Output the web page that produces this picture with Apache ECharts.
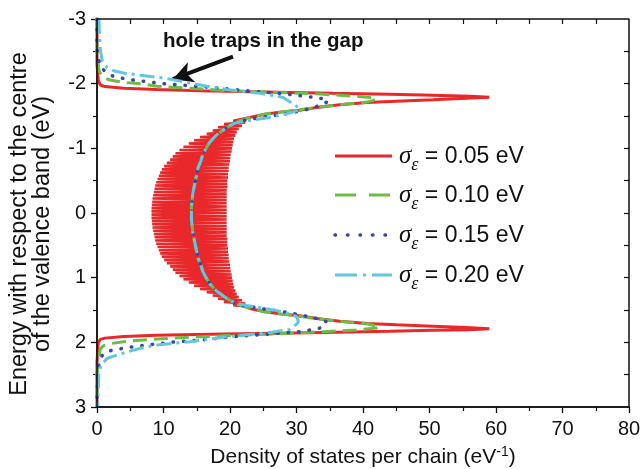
<!DOCTYPE html>
<html><head><meta charset="utf-8">
<script src="https://cdn.jsdelivr.net/npm/echarts@6/dist/echarts.min.js"></script>
<style>html,body{margin:0;padding:0;background:#fff}#c{width:640px;height:469px}</style>
</head><body><div id="c"></div>
<script>
// x = density of states per chain (eV^-1), y = energy (eV)
const xTicks = [0, 80, 10];
const yTicks = [-3, 3, 1];
const topTickStep = 5;
const rightTickStep = 0.5;

const red005Top = [[0,-3],[0,-2.3],[0.2,-2.05],[0.5,-1.98],[1.2,-1.955],[4,-1.93],[9,-1.91],[15.5,-1.89],[25,-1.87],[35.5,-1.85],[44,-1.835],[50.5,-1.82],[56,-1.805],[59,-1.79],[55.5,-1.775],[50.5,-1.75],[45,-1.73],[40.6,-1.71],[36.5,-1.675],[33,-1.63],[30.5,-1.59],[27.5,-1.56],[25.5,-1.53],[24,-1.5],[22.8,-1.475]];

const red005Zig = [[22.8,-1.475],[23.0,-1.45],[20.5,-1.425],[22.3,-1.4],[19.1,-1.375],[21.8,-1.35],[18.2,-1.325],[21.3,-1.3],[17.4,-1.275],[21.0,-1.25],
[16.5,-1.225],[20.8,-1.2],[15.5,-1.175],[20.6,-1.15],[14.6,-1.125],[20.5,-1.1],[13.8,-1.075],[20.4,-1.05],[13.0,-1.025],[20.3,-1.0],
[12.4,-0.975],[20.25,-0.95],[11.8,-0.925],[20.1,-0.9],[11.4,-0.875],[20.05,-0.85],[11.0,-0.825],[20.0,-0.8],[10.5,-0.775],[19.9,-0.75],
[10.1,-0.725],[19.8,-0.7],[9.75,-0.675],[19.8,-0.65],[9.5,-0.625],[19.7,-0.6],[9.3,-0.575],[19.7,-0.55],[9.1,-0.525],[19.6,-0.5],
[8.9,-0.475],[19.6,-0.45],[8.75,-0.425],[19.6,-0.4],[8.65,-0.375],[19.5,-0.35],[8.55,-0.325],[19.5,-0.3],[8.45,-0.275],[19.5,-0.25],
[8.35,-0.225],[19.5,-0.2],[8.3,-0.175],[19.5,-0.15],[8.25,-0.125],[19.5,-0.1],[8.2,-0.075],[19.5,-0.05],[8.2,-0.025],[19.5,0],
[8.2,0.025],[19.5,0.05],[8.2,0.075],[19.5,0.1],[8.25,0.125],[19.5,0.15],[8.3,0.175],[19.5,0.2],[8.35,0.225],[19.5,0.25],
[8.45,0.275],[19.5,0.3],[8.55,0.325],[19.5,0.35],[8.65,0.375],[19.6,0.4],[8.75,0.425],[19.6,0.45],[8.9,0.475],[19.6,0.5],
[9.1,0.525],[19.7,0.55],[9.3,0.575],[19.7,0.6],[9.5,0.625],[19.8,0.65],[9.75,0.675],[19.8,0.7],[10.1,0.725],[19.9,0.75],
[10.5,0.775],[20.0,0.8],[11.0,0.825],[20.05,0.85],[11.4,0.875],[20.1,0.9],[11.8,0.925],[20.25,0.95],[12.4,0.975],[20.3,1.0],
[13.0,1.025],[20.4,1.05],[13.8,1.075],[20.5,1.1],[14.6,1.125],[20.6,1.15],[15.5,1.175],[20.8,1.2],[16.5,1.225],[21.0,1.25],
[17.4,1.275],[21.3,1.3],[18.2,1.325],[21.8,1.35],[19.1,1.375],[22.3,1.4],[20.5,1.425],[23.0,1.45],[22.8,1.475]];

const red005Bottom = [[22.8,1.475],[24,1.5],[25.5,1.53],[27.5,1.56],[30.5,1.59],[33,1.63],[36.5,1.675],[40.6,1.71],[45,1.73],[50.5,1.75],[55.5,1.77],[59,1.79],[56,1.805],[50.5,1.815],[44,1.83],[32,1.85],[19,1.87],[9,1.89],[4,1.91],[1.2,1.935],[0.5,1.955],[0.2,2.0],[0,2.3],[0,3]];

const green010 = [[0,-3],[0,-2.5],[0.1,-2.4],[0.3,-2.2],[0.9,-2.1],[1.8,-2.06],[4,-2.02],[6.5,-2.0],[9,-1.96],[14,-1.93],[20,-1.89],[27,-1.865],[33.5,-1.84],[38,-1.81],[41.5,-1.785],[42,-1.755],[40.6,-1.715],[36.5,-1.675],[33,-1.635],[30.5,-1.595],[27.5,-1.56],[25,-1.525],[22.8,-1.47],[20.7,-1.4],[19.2,-1.3],[17.9,-1.2],[17,-1.1],[16.4,-1.0],[15.9,-0.9],[15.6,-0.8],[15.2,-0.7],[15,-0.6],[14.8,-0.5],[14.6,-0.4],[14.4,-0.3],[14.3,-0.2],[14.2,-0.1],[14.2,0],[14.2,0.1],[14.3,0.2],[14.4,0.3],[14.6,0.4],[14.8,0.5],[15,0.6],[15.2,0.7],[15.6,0.8],[15.9,0.9],[16.4,1.0],[17,1.1],[17.9,1.2],[19.2,1.3],[20.7,1.4],[22.8,1.47],[25,1.525],[27.5,1.56],[30.5,1.595],[33,1.635],[36.5,1.675],[40.6,1.715],[42.5,1.76],[42,1.78],[39,1.81],[34,1.835],[29,1.86],[24,1.88],[19,1.9],[13,1.925],[9,1.95],[6,1.97],[4,1.99],[2,2.02],[1,2.05],[0.5,2.1],[0.2,2.3],[0,2.5],[0,3]];

const blue015 = [[0,-3],[0,-2.6],[0.1,-2.45],[0.5,-2.27],[1.2,-2.19],[2.5,-2.11],[4.5,-2.07],[7.5,-2.03],[10,-2.0],[12.5,-1.98],[17.5,-1.94],[22.5,-1.89],[27.5,-1.85],[30,-1.82],[32.5,-1.79],[34.3,-1.76],[34.8,-1.73],[34,-1.68],[32.5,-1.63],[31,-1.585],[28.5,-1.535],[25.5,-1.49],[22.5,-1.44],[20.7,-1.4],[19.2,-1.3],[17.9,-1.2],[17,-1.1],[16.4,-1.0],[15.9,-0.9],[15.6,-0.8],[15.2,-0.7],[15,-0.6],[14.8,-0.5],[14.6,-0.4],[14.4,-0.3],[14.3,-0.2],[14.2,-0.1],[14.2,0],[14.2,0.1],[14.3,0.2],[14.4,0.3],[14.6,0.4],[14.8,0.5],[15,0.6],[15.2,0.7],[15.6,0.8],[15.9,0.9],[16.4,1.0],[17,1.1],[17.9,1.2],[19.2,1.3],[20.7,1.4],[22.5,1.44],[25.5,1.49],[28.5,1.535],[31,1.585],[33,1.63],[34.5,1.68],[34.2,1.73],[33.5,1.78],[31,1.83],[26,1.87],[21,1.91],[16,1.96],[11,2.0],[8.5,2.03],[6,2.06],[3.5,2.1],[1.5,2.14],[0.8,2.2],[0.4,2.3],[0.1,2.5],[0,2.9],[0,3]];

const cyan020 = [[0.3,-3],[0.35,-2.8],[0.5,-2.52],[0.8,-2.35],[1.5,-2.25],[2.5,-2.2],[4,-2.165],[6.5,-2.13],[9,-2.1],[11,-2.07],[13.5,-2.02],[16.5,-1.96],[19.5,-1.91],[22,-1.88],[24.5,-1.85],[27,-1.81],[28,-1.785],[29,-1.72],[30,-1.65],[30.5,-1.6],[29,-1.545],[25.5,-1.47],[22.5,-1.425],[20.7,-1.39],[19.2,-1.3],[17.9,-1.2],[17,-1.1],[16.4,-1.0],[15.9,-0.9],[15.6,-0.8],[15.2,-0.7],[15,-0.6],[14.8,-0.5],[14.6,-0.4],[14.4,-0.3],[14.3,-0.2],[14.2,-0.1],[14.2,0],[14.2,0.1],[14.3,0.2],[14.4,0.3],[14.6,0.4],[14.8,0.5],[15,0.6],[15.2,0.7],[15.6,0.8],[15.9,0.9],[16.4,1.0],[17,1.1],[17.9,1.2],[19.2,1.3],[20.7,1.39],[22.5,1.43],[25,1.47],[28,1.53],[30,1.6],[30.3,1.68],[30,1.72],[29,1.8],[26.5,1.84],[24,1.87],[21.5,1.895],[19,1.92],[16.5,1.955],[14,1.99],[11.5,2.015],[9,2.04],[7,2.08],[5.5,2.12],[3.5,2.18],[1.5,2.25],[0.8,2.33],[0.3,2.43],[0.2,2.7],[0.1,3]];

const legendValues = ['0.05', '0.10', '0.15', '0.20'];
const arrowFrom = [20.45, -2.417];
const arrowTo = [11.4, -2.07];

const C_RED = '#e8282b', C_GREEN = '#6cbd45', C_BLUE = '#3447a4', C_CYAN = '#62c6dd';
const AX = '#111111';
const FONT = '"Liberation Sans", Arial, sans-serif';
const GRID = { left: 97, right: 11, top: 19, bottom: 62 };
const W = 640, H = 469;

const chart = echarts.init(document.getElementById('c'), null, { renderer: 'canvas' });

const baseX = { type: 'value', min: xTicks[0], max: xTicks[1] };
const baseY = { type: 'value', min: yTicks[0], max: yTicks[1], inverse: true };
const frameLine = () => ({ show: true, onZero: false, lineStyle: { color: AX, width: 1.5 } });

// frame of the plot area, drawn through the axes' scales as a closed line
const frameBox = [[xTicks[0], yTicks[0]], [xTicks[1], yTicks[0]], [xTicks[1], yTicks[1]], [xTicks[0], yTicks[1]], [xTicks[0], yTicks[0]]];
// inward mirror ticks (5 px) on top and right edges
const pxPerX = (W - GRID.left - GRID.right) / (xTicks[1] - xTicks[0]);
const pxPerY = (H - GRID.top - GRID.bottom) / (yTicks[1] - yTicks[0]);
const mirrorTicks = [];
for (let v = xTicks[0] + topTickStep; v < xTicks[1] - 1e-9; v += topTickStep) {
  mirrorTicks.push([{ coord: [v, yTicks[0]] }, { coord: [v, yTicks[0] + 5 / pxPerY] }]);
}
for (let e = yTicks[0] + rightTickStep; e < yTicks[1] - 1e-9; e += rightTickStep) {
  mirrorTicks.push([{ coord: [xTicks[1], e] }, { coord: [xTicks[1] - 5 / pxPerX, e] }]);
}

// manual legend (line sample + rich text)
const legendStyles = [
  { color: C_RED, dash: null, width: 3, cap: 'butt' },
  { color: C_GREEN, dash: [21, 13], width: 3, cap: 'butt' },
  { color: C_BLUE, dash: [0.5, 12], width: 3.5, cap: 'round' },
  { color: C_CYAN, dash: [22, 6, 3, 6], width: 3, cap: 'butt' }
];
const legendRowY = [156, 195, 235, 275];
const richLegend = {
  a: { fontFamily: '"Liberation Serif", serif', fontStyle: 'italic', fontSize: 25, fill: '#111', color: '#111', verticalAlign: 'bottom', padding: [0, 0, 6, 0] },
  b: { fontFamily: '"Liberation Serif", serif', fontStyle: 'italic', fontSize: 18, fill: '#111', color: '#111', verticalAlign: 'bottom' },
  c: { fontFamily: FONT, fontSize: 23, fill: '#111', color: '#111', verticalAlign: 'bottom', padding: [0, 0, 6, 0] }
};
const graphics = [
  { type: 'text', left: 163, top: 31, z: 60, style: { text: 'hole traps in the gap', font: 'bold 20.5px "Liberation Sans", Arial, sans-serif', fill: '#111' } }
];
legendValues.forEach((v, i) => {
  const st = legendStyles[i];
  const ls = { stroke: st.color, lineWidth: st.width, lineCap: st.cap };
  if (st.dash) ls.lineDash = st.dash;
  graphics.push({ type: 'line', z: 60, silent: true, shape: { x1: 335, y1: legendRowY[i], x2: 392, y2: legendRowY[i] }, style: ls });
  graphics.push({ type: 'text', z: 60, silent: true, x: 399, y: legendRowY[i] + 3,
    style: { text: '{a|σ}{b|ε}{c| = ' + v + ' eV}', rich: richLegend, verticalAlign: 'middle', align: 'left' } });
});

chart.setOption({
  animation: false,
  grid: { left: GRID.left, right: GRID.right, top: GRID.top, bottom: GRID.bottom, containLabel: false, outerBoundsMode: 'none' },
  xAxis: [
    Object.assign({}, baseX, {
      position: 'bottom', interval: xTicks[2],
      axisLine: frameLine(),
      axisTick: { show: true, inside: false, length: 6, lineStyle: { color: AX, width: 1.3 } },
      minorTick: { show: true, splitNumber: 2, length: 4, lineStyle: { color: AX, width: 1.2 } },
      splitLine: { show: false },
      axisLabel: { color: AX, fontSize: 20, fontFamily: FONT, margin: 12 },
      name: '{n|Density of states per chain (eV}{s|-1}{n|)}',
      nameLocation: 'middle', nameGap: 38,
      nameTextStyle: { rich: {
        n: { fontSize: 21, fontFamily: FONT, color: AX, verticalAlign: 'bottom' },
        s: { fontSize: 14, fontFamily: FONT, color: AX, verticalAlign: 'bottom', padding: [0, 0, 9, 0] }
      } }
    })
  ],
  yAxis: [
    Object.assign({}, baseY, {
      position: 'left', interval: yTicks[2],
      axisLine: frameLine(),
      axisTick: { show: true, inside: false, length: 6, lineStyle: { color: AX, width: 1.3 } },
      minorTick: { show: true, splitNumber: 2, length: 4, lineStyle: { color: AX, width: 1.2 } },
      splitLine: { show: false },
      axisLabel: { color: AX, fontSize: 20, fontFamily: FONT, margin: 11 },
      name: 'Energy with respect to the centre\nof the valence band (eV)',
      nameLocation: 'middle', nameGap: 43,
      nameTextStyle: { fontSize: 23.5, fontFamily: FONT, color: AX, lineHeight: 23, padding: [0, 22, 0, 0] }
    })
  ],
  series: [
    { name: 's005', type: 'line', data: red005Top, showSymbol: false, symbol: 'none', lineStyle: { color: C_RED, width: 3 }, itemStyle: { color: C_RED }, z: 2 },
    { name: 's005', type: 'line', data: red005Zig, showSymbol: false, symbol: 'none', lineStyle: { color: C_RED, width: 2.6 }, itemStyle: { color: C_RED }, z: 2 },
    { name: 's005', type: 'line', data: red005Bottom, showSymbol: false, symbol: 'none', lineStyle: { color: C_RED, width: 3 }, itemStyle: { color: C_RED }, z: 2 },
    { name: 's010', type: 'line', data: green010, showSymbol: false, symbol: 'none', lineStyle: { color: C_GREEN, width: 3, type: [14, 7] }, itemStyle: { color: C_GREEN }, z: 3 },
    { name: 's015', type: 'line', data: blue015, showSymbol: false, symbol: 'none', lineStyle: { color: C_BLUE, width: 3.5, type: [0.5, 10], cap: 'round' }, itemStyle: { color: C_BLUE }, z: 4 },
    { name: 's020', type: 'line', data: cyan020, showSymbol: false, symbol: 'none', lineStyle: { color: C_CYAN, width: 3, type: [15, 5, 3, 5] }, itemStyle: { color: C_CYAN }, z: 5,
      markLine: { silent: true, symbol: ['none', 'arrow'], symbolSize: [16, 20], animation: false,
        lineStyle: { color: '#111', width: 4, type: 'solid' }, label: { show: false },
        data: [[{ coord: arrowFrom }, { coord: arrowTo }]] } },
    { name: 'frame', type: 'line', data: frameBox, showSymbol: false, symbol: 'none', clip: false, silent: true, z: 10,
      lineStyle: { color: '#111', width: 1.5, type: 'solid' }, itemStyle: { color: '#111' }, tooltip: { show: false },
      markLine: { silent: true, symbol: ['none', 'none'], animation: false,
        lineStyle: { color: '#111', width: 1.2, type: 'solid' }, label: { show: false },
        data: mirrorTicks } }
  ],
  graphic: graphics
});
</script></body></html>
